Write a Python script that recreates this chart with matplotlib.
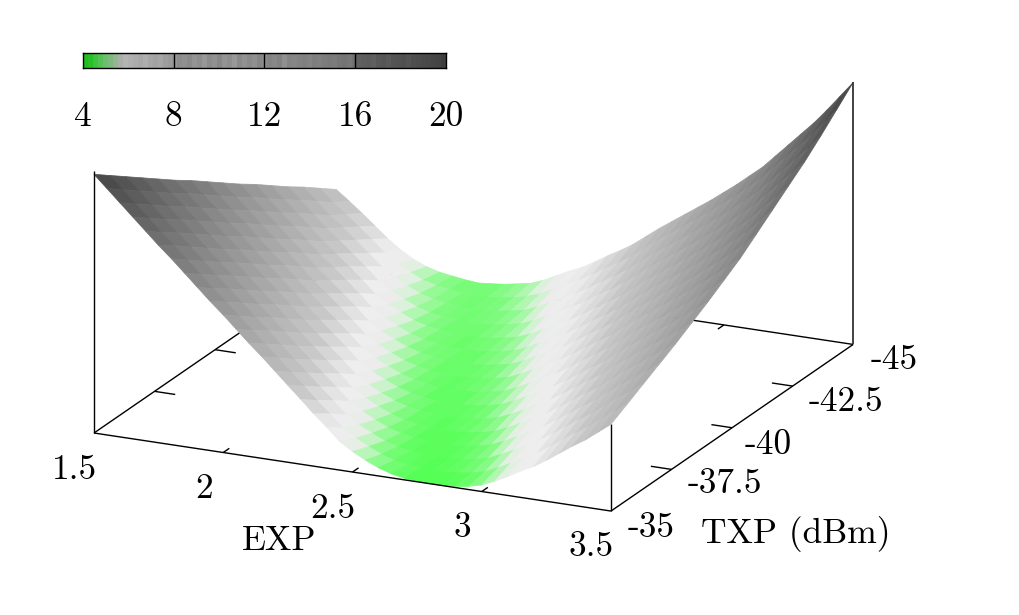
import numpy as np
import matplotlib
matplotlib.use('Agg')
import matplotlib.pyplot as plt
from matplotlib.colors import LinearSegmentedColormap, ListedColormap, Normalize
from mpl_toolkits.mplot3d import proj3d
from mpl_toolkits.mplot3d.art3d import Poly3DCollection

plt.rcParams['font.family'] = ['cmr10', 'DejaVu Serif']

W, H = 1020, 615

exp_vals = np.linspace(1.5, 3.5, 41)
txp_vals = np.linspace(-35, -45, 16)

# one row per TXP value
z_rows = [
    [19.80, 19.05, 18.30, 17.55, 16.80, 16.05, 15.35, 14.60, 13.85, 13.10, 12.40, 11.65, 10.90, 10.20, 9.45, 8.70, 7.96, 7.20, 6.50, 5.75, 5.25, 4.85, 4.50, 4.25, 4.10, 4.02, 4.00, 4.02, 4.08, 4.20, 4.40, 4.75, 5.15, 5.60, 6.00, 6.50, 7.05, 7.60, 8.10, 8.70, 9.30],
    [19.05, 18.30, 17.55, 16.80, 16.05, 15.35, 14.60, 13.85, 13.10, 12.40, 11.65, 10.90, 10.20, 9.45, 8.70, 7.97, 7.22, 6.52, 5.77, 5.27, 4.87, 4.52, 4.27, 4.13, 4.04, 4.02, 4.04, 4.11, 4.23, 4.42, 4.77, 5.17, 5.62, 6.01, 6.51, 7.06, 7.60, 8.10, 8.70, 9.30, 9.85],
    [18.30, 17.55, 16.80, 16.05, 15.35, 14.60, 13.85, 13.10, 12.40, 11.65, 10.90, 10.20, 9.45, 8.70, 7.98, 7.24, 6.54, 5.79, 5.29, 4.89, 4.54, 4.30, 4.15, 4.07, 4.04, 4.07, 4.13, 4.25, 4.45, 4.79, 5.19, 5.63, 6.03, 6.52, 7.06, 7.60, 8.10, 8.70, 9.30, 9.85, 10.40],
    [17.55, 16.80, 16.05, 15.35, 14.60, 13.85, 13.10, 12.40, 11.65, 10.90, 10.20, 9.45, 8.70, 7.99, 7.26, 6.56, 5.81, 5.31, 4.91, 4.56, 4.32, 4.18, 4.09, 4.06, 4.09, 4.16, 4.28, 4.47, 4.81, 5.21, 5.65, 6.04, 6.53, 7.07, 7.60, 8.10, 8.70, 9.30, 9.85, 10.40, 10.95],
    [16.80, 16.05, 15.35, 14.60, 13.85, 13.10, 12.40, 11.65, 10.90, 10.20, 9.45, 8.70, 8.00, 7.27, 6.58, 5.83, 5.33, 4.93, 4.59, 4.34, 4.20, 4.11, 4.08, 4.11, 4.18, 4.31, 4.49, 4.83, 5.23, 5.67, 6.05, 6.54, 7.08, 7.60, 8.10, 8.70, 9.30, 9.85, 10.40, 10.95, 11.50],
    [16.05, 15.35, 14.60, 13.85, 13.10, 12.40, 11.65, 10.90, 10.20, 9.45, 8.70, 8.01, 7.29, 6.60, 5.85, 5.35, 4.95, 4.61, 4.37, 4.23, 4.14, 4.10, 4.14, 4.21, 4.33, 4.52, 4.85, 5.25, 5.68, 6.07, 6.55, 7.08, 7.60, 8.10, 8.70, 9.30, 9.85, 10.40, 10.95, 11.50, 12.10],
    [15.35, 14.60, 13.85, 13.10, 12.40, 11.65, 10.90, 10.20, 9.45, 8.70, 8.02, 7.31, 6.62, 5.87, 5.37, 4.97, 4.63, 4.39, 4.25, 4.16, 4.12, 4.16, 4.23, 4.36, 4.54, 4.87, 5.27, 5.70, 6.08, 6.56, 7.09, 7.60, 8.10, 8.70, 9.30, 9.85, 10.40, 10.95, 11.50, 12.10, 12.70],
    [14.60, 13.85, 13.10, 12.40, 11.65, 10.90, 10.20, 9.45, 8.70, 8.03, 7.33, 6.64, 5.89, 5.39, 4.99, 4.65, 4.41, 4.28, 4.18, 4.14, 4.18, 4.26, 4.39, 4.56, 4.89, 5.29, 5.72, 6.09, 6.57, 7.10, 7.60, 8.10, 8.70, 9.30, 9.85, 10.40, 10.95, 11.50, 12.10, 12.70, 13.35],
    [13.85, 13.10, 12.40, 11.65, 10.90, 10.20, 9.45, 8.70, 8.04, 7.35, 6.66, 5.91, 5.41, 5.01, 4.67, 4.44, 4.30, 4.21, 4.16, 4.21, 4.28, 4.41, 4.59, 4.91, 5.31, 5.73, 6.11, 6.58, 7.10, 7.60, 8.10, 8.70, 9.30, 9.85, 10.40, 10.95, 11.50, 12.10, 12.70, 13.35, 14.00],
    [13.10, 12.40, 11.65, 10.90, 10.20, 9.45, 8.70, 8.05, 7.37, 6.68, 5.93, 5.43, 5.03, 4.69, 4.46, 4.33, 4.23, 4.18, 4.23, 4.31, 4.44, 4.61, 4.93, 5.33, 5.75, 6.12, 6.59, 7.11, 7.60, 8.10, 8.70, 9.30, 9.85, 10.40, 10.95, 11.50, 12.10, 12.70, 13.35, 14.00, 14.80],
    [12.40, 11.65, 10.90, 10.20, 9.45, 8.70, 8.06, 7.39, 6.70, 5.95, 5.45, 5.05, 4.71, 4.48, 4.35, 4.25, 4.20, 4.25, 4.33, 4.47, 4.63, 4.95, 5.35, 5.77, 6.13, 6.60, 7.12, 7.60, 8.10, 8.70, 9.30, 9.85, 10.40, 10.95, 11.50, 12.10, 12.70, 13.35, 14.00, 14.80, 15.60],
    [11.65, 10.90, 10.20, 9.45, 8.70, 8.07, 7.41, 6.72, 5.97, 5.47, 5.07, 4.73, 4.51, 4.38, 4.28, 4.22, 4.28, 4.36, 4.49, 4.66, 4.97, 5.37, 5.78, 6.15, 6.61, 7.12, 7.60, 8.10, 8.70, 9.30, 9.85, 10.40, 10.95, 11.50, 12.10, 12.70, 13.35, 14.00, 14.80, 15.60, 16.40],
    [10.90, 10.20, 9.45, 8.70, 8.08, 7.42, 6.74, 5.99, 5.49, 5.09, 4.76, 4.53, 4.40, 4.30, 4.24, 4.30, 4.38, 4.52, 4.68, 4.99, 5.39, 5.80, 6.16, 6.62, 7.13, 7.60, 8.10, 8.70, 9.30, 9.85, 10.40, 10.95, 11.50, 12.10, 12.70, 13.35, 14.00, 14.80, 15.60, 16.40, 17.20],
    [10.20, 9.45, 8.70, 8.09, 7.44, 6.76, 6.05, 5.53, 5.11, 4.78, 4.55, 4.43, 4.32, 4.26, 4.32, 4.41, 4.55, 4.70, 5.01, 5.41, 5.82, 6.17, 6.63, 7.14, 7.60, 8.10, 8.70, 9.30, 9.85, 10.40, 10.95, 11.50, 12.10, 12.70, 13.35, 14.00, 14.80, 15.60, 16.40, 17.20, 18.10],
    [9.45, 8.70, 8.10, 7.46, 6.80, 6.10, 5.56, 5.13, 4.80, 4.58, 4.45, 4.35, 4.28, 4.35, 4.43, 4.57, 4.73, 5.03, 5.43, 5.83, 6.19, 6.64, 7.14, 7.60, 8.10, 8.70, 9.30, 9.85, 10.40, 10.95, 11.50, 12.10, 12.70, 13.35, 14.00, 14.80, 15.60, 16.40, 17.20, 18.10, 19.05],
    [8.70, 8.11, 7.48, 6.83, 6.17, 5.60, 5.15, 4.82, 4.60, 4.48, 4.37, 4.30, 4.37, 4.46, 4.60, 4.75, 5.05, 5.45, 5.85, 6.20, 6.65, 7.15, 7.60, 8.10, 8.70, 9.30, 9.85, 10.40, 10.95, 11.50, 12.10, 12.70, 13.35, 14.00, 14.80, 15.60, 16.40, 17.20, 18.10, 19.05, 20.00],
]

exp_ticks = [1.5, 2, 2.5, 3, 3.5]
exp_labels = ['1.5', '2', '2.5', '3', '3.5']
txp_ticks = [-35, -37.5, -40, -42.5, -45]
txp_labels = ['-35', '-37.5', '-40', '-42.5', '-45']
cbar_ticks = [4, 8, 12, 16, 20]

# surface palette
surf_stops = [(4, '#55ff55'), (4.5, '#8cfa8c'), (4.8, '#b8f5b8'), (5.1, '#e0f0e0'),
              (5.4, '#ececec'), (6, '#eeeeee'), (8, '#c8c8c8'), (12, '#9c9c9c'),
              (16, '#707070'), (20, '#404040')]
# the key is darker and stripier than the surface
cbar_colors = ['#1fbf1f', '#28c028', '#3cc43c', '#55c055', '#6cc06c', '#80b880', '#95b595', '#a8b0a8']
cbar_greys = ['b4', 'b0', 'ac', 'a8', 'ae', 'a6', 'a2', 'a6', '9e', '9a', '96',
              '8c', '90', '8a', '94', '8e', '98', '8c', '92', '88', '94', '8e', '98', '8a', '92', '8a', '90', '86', '8c',
              '84', '88', '82', '90', '84', '86', '82', '80', '84', '7e', '80', '7c', '7a', '7c', '76', '74', '78', '72',
              '60', '5e', '5c', '60', '58', '56', '5a', '54', '52', '50', '54', '4e', '4c', '4a', '48', '46', '44', '3e']
cbar_colors = cbar_colors + ['#' + g * 3 for g in cbar_greys]

fig = plt.figure(figsize=(W / 100, H / 100), dpi=100, facecolor='white')


def pos_for(cx, cy, side=2000):
    # square axes, centre given in pixels from the top left
    return [(cx - side / 2) / W, (H - cy - side / 2) / H, side / W, side / H]


ax = fig.add_axes(pos_for(473.5, 258.5), projection='3d', computed_zorder=False)
ax.set_axis_off()
ax.set_proj_type('ortho')
ax.view_init(elev=18.8, azim=-64.9)

z = np.array(z_rows)
norm = Normalize(4, 20)
cmap = LinearSegmentedColormap.from_list('surf', [((v - 4) / 16, c) for v, c in surf_stops])

verts = []
means = []
for r in range(len(txp_vals) - 1):
    for c in range(len(exp_vals) - 1):
        verts.append([(exp_vals[c], txp_vals[r], z[r, c]),
                      (exp_vals[c + 1], txp_vals[r], z[r, c + 1]),
                      (exp_vals[c + 1], txp_vals[r + 1], z[r + 1, c + 1]),
                      (exp_vals[c], txp_vals[r + 1], z[r + 1, c])])
        means.append(z[r:r + 2, c:c + 2].mean())
colors = cmap(norm(np.array(means)))
surf = Poly3DCollection(verts, facecolors=colors, edgecolors=colors, linewidths=0.5, zorder=2)
ax.add_collection3d(surf)

ax.set_xlim(1.5, 3.5, view_margin=0)
ax.set_ylim(-35, -45, view_margin=0)
ax.set_zlim(4, 20, view_margin=0)


def line3(xs, ys, zs_, zorder=1, lw=1.0, color='black'):
    ax.plot(xs, ys, zs_, color=color, lw=lw, zorder=zorder, solid_capstyle='butt')


# base frame, back edges go under the surface
line3([1.5, 1.5], [-35, -45], [4, 4])
line3([1.5, 3.5], [-45, -45], [4, 4])
line3([3.5, 3.5], [-35, -45], [4, 4], zorder=3)
line3([1.5, 3.5], [-35, -35], [4, 4], zorder=3)
# corner posts
line3([1.5, 1.5], [-35, -35], [4, 20], zorder=3)
line3([3.5, 3.5], [-45, -45], [4, 20], zorder=3, lw=1.3, color='#333333')
line3([3.5, 3.5], [-35, -35], [4, z[0, -1]], zorder=1)

for e in exp_ticks[1:-1]:
    line3([e, e], [-35, -35.25], [4, 4])
    line3([e, e], [-45, -44.75], [4, 4])
for t in txp_ticks[1:-1]:
    line3([1.5, 1.58], [t, t], [4, 4])
    line3([3.5, 3.42], [t, t], [4, 4])


def to_px(e, t, v):
    x2, y2, _ = proj3d.proj_transform(e, t, v, ax.get_proj())
    return ax.transData.transform((x2, y2))


# fit the projected box onto the reference corners
zoom = 1.0
ax.set_box_aspect((1, 1, 0.4847), zoom=zoom)
fig.canvas.draw()
span = to_px(3.5, -35, 4)[0] - to_px(1.5, -35, 4)[0]
zoom = zoom * 517 / span
ax.set_box_aspect((1, 1, 0.4847), zoom=zoom)
fig.canvas.draw()
a = to_px(1.5, -35, 4)
ax.set_position(pos_for(473.5 + 94 - a[0], 258.5 + (a[1] - (H - 433))))

fs = 25.5
cax = fig.add_axes([83 / W, 1 - 68 / H, 363 / W, 15 / H])
cax.imshow(np.arange(len(cbar_colors))[None, :], cmap=ListedColormap(cbar_colors),
           extent=(4, 20, 0, 1), aspect='auto', interpolation='nearest')
cax.vlines(cbar_ticks[1:-1], 0, 1, color='black', lw=1.0)
cax.set_yticks([])
cax.set_xticks(cbar_ticks)
cax.set_xticklabels([str(v) for v in cbar_ticks], fontsize=fs)
cax.tick_params(axis='x', length=0, pad=24)
for s in cax.spines.values():
    s.set_linewidth(1.0)


def label(x, y, s):
    fig.text(x / W, 1 - y / H, s, ha='center', va='center', fontsize=fs)


for i, s in enumerate(exp_labels):
    label(75 + 129 * i, 470 + 19.4 * i, s)
label(279, 541, 'EXP')

txp_centers = [(651, 528), (725, 484), (768, 445), (846, 402), (894, 360)]
for (x, y), s in zip(txp_centers, txp_labels):
    label(x, y, s)
label(796, 534, 'TXP (dBm)')

fig.savefig('out.png', dpi=100)
